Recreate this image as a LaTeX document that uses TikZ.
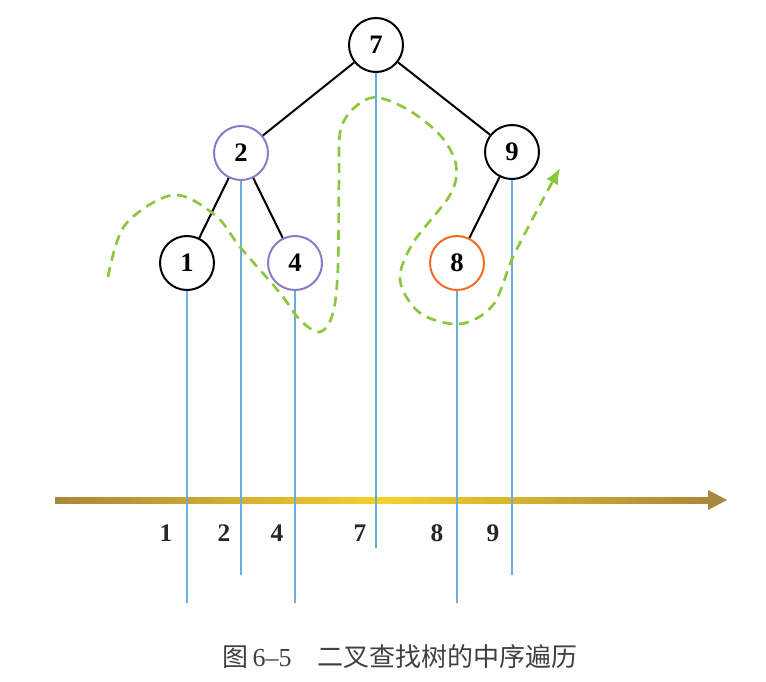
\documentclass[tikz,border=0pt]{standalone}
\usepackage{fontspec}
\setmainfont{Liberation Serif}
\newfontfamily\cjk{Noto Sans CJK SC}
\usetikzlibrary{arrows.meta}
\definecolor{purp}{HTML}{8A7CC4}
\definecolor{oran}{HTML}{F06A2A}
\definecolor{bline}{HTML}{6AADDF}
\definecolor{grn}{HTML}{8CC63F}
\definecolor{gold1}{HTML}{A8873A}
\definecolor{gold2}{HTML}{F7D02A}
\tikzset{
  tn/.style={circle,draw=black,line width=1.5pt,minimum size=40.5pt,inner sep=0pt,font=\fontsize{20}{20}\selectfont\bfseries},
  edge/.style={line width=1.5pt,black},
  vline/.style={bline,line width=1pt},
  lab/.style={font=\fontsize{19}{19}\selectfont\bfseries,text=black!85,inner sep=0pt}
}
\begin{document}
\begin{tikzpicture}[x=0.75pt,y=-0.75pt]
\useasboundingbox (0,0) rectangle (766,681);
% arrow axis
\shade[left color=gold1,right color=gold1,middle color=gold2] (55,497) rectangle (712,503);
\fill[gold1] (708,490) -- (727,500) -- (708,510) -- cycle;
% nodes
\node[tn] (n7) at (376,45) {7};
\node[tn,draw=purp] (n2) at (241,153) {2};
\node[tn] (n9) at (512,152) {9};
\node[tn] (n1) at (187,263) {1};
\node[tn,draw=purp] (n4) at (295,263) {4};
\node[tn,draw=oran] (n8) at (457,263) {8};
% edges
\draw[edge] (n7) -- (n2);
\draw[edge] (n7) -- (n9);
\draw[edge] (n2) -- (n1);
\draw[edge] (n2) -- (n4);
\draw[edge] (n9) -- (n8);
% vertical lines
\coordinate (e1) at (187,603);
\coordinate (e2) at (241,575);
\coordinate (e4) at (295,603);
\coordinate (e7) at (376,548);
\coordinate (e8) at (457,603);
\coordinate (e9) at (512,575);
\draw[vline] (n1.south) -- (e1);
\draw[vline] (n2.south) -- (e2);
\draw[vline] (n4.south) -- (e4);
\draw[vline] (n7.south) -- (e7);
\draw[vline] (n8.south) -- (e8);
\draw[vline] (n9.south) -- (e9);
% green dashed traversal path
\draw[grn,line width=2pt,dash pattern=on 7.5pt off 5pt,-{Latex[length=12pt,width=10pt]}]
  plot[smooth,tension=0.55] coordinates {
  (108,277) (125,225) (173,195) (215,215) (240,247) (280,293) (300,320) (320,332) (333,313) (338,267) (339,180) (342,125) (370,98) (405,108) (440,135) (456,165) (450,195) (413,243) (400,280) (420,313) (460,324) (493,305) (513,257) (540,205) (560,168)};
% labels
\node[lab] (l1) at (166,533) {1};
\node[lab] (l2) at (224,533) {2};
\node[lab] (l4) at (277,533) {4};
\node[lab] (l7) at (360,533) {7};
\node[lab] (l8) at (437,533) {8};
\node[lab] (l9) at (493,533) {9};
% caption
\node[font=\fontsize{19.5}{19.5}\selectfont,text=black!75,inner sep=0pt] (cap) at (400,657) {{\cjk 图}\,6–5\quad{\cjk 二叉查找树的中序遍历}};
\end{tikzpicture}
\end{document}
